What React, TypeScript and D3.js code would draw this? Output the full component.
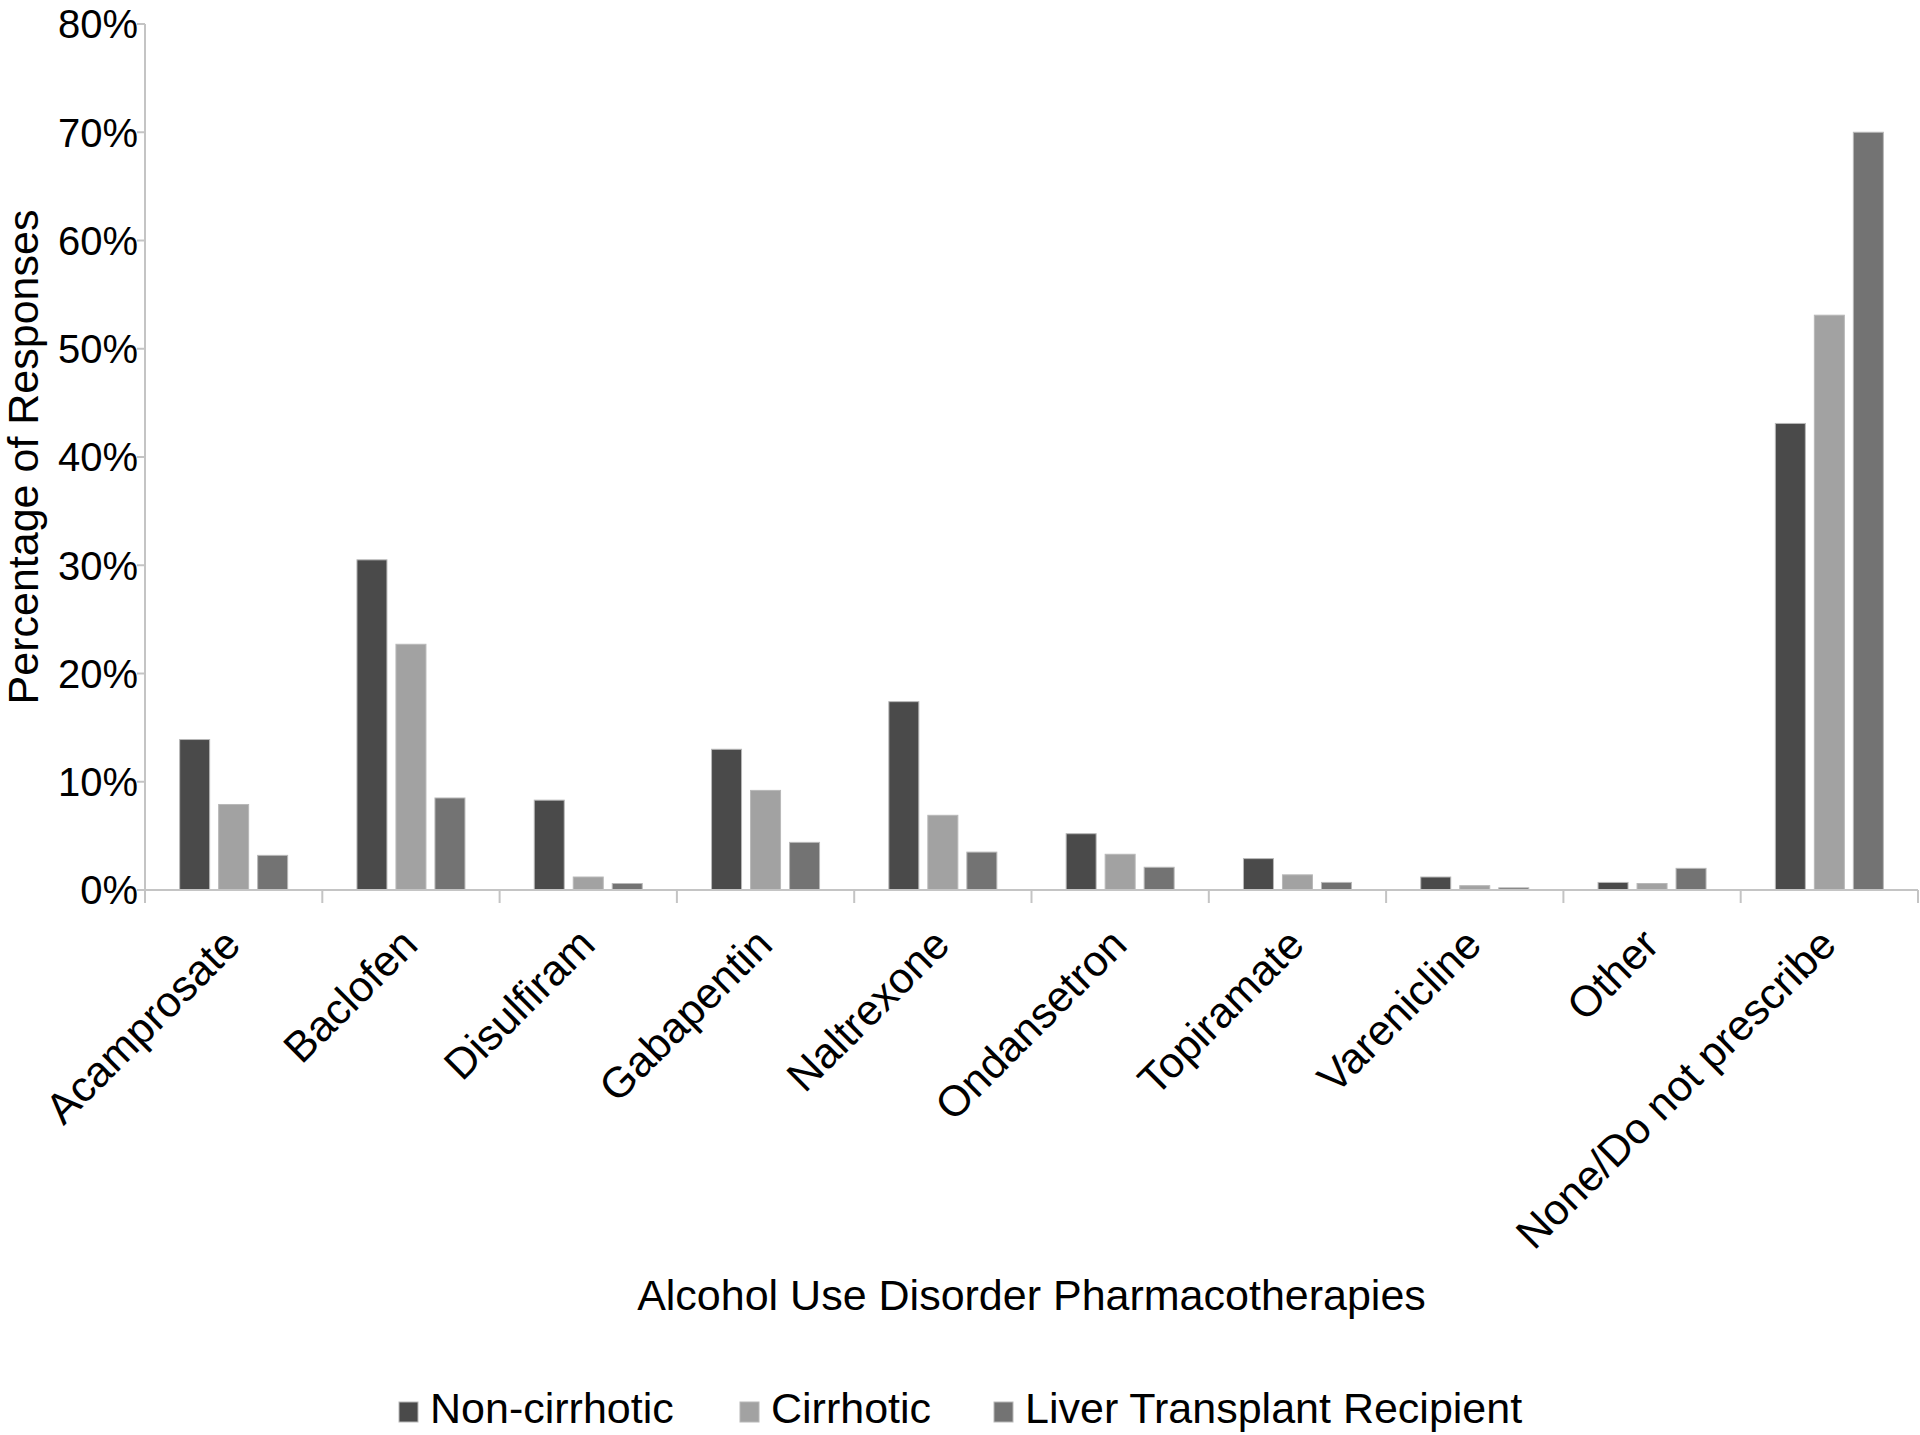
import React from "react";
import * as d3 from "d3";

const categories = [
  "Acamprosate",
  "Baclofen",
  "Disulfiram",
  "Gabapentin",
  "Naltrexone",
  "Ondansetron",
  "Topiramate",
  "Varenicline",
  "Other",
  "None/Do not prescribe",
];
const seriesNames = ["Non-cirrhotic", "Cirrhotic", "Liver Transplant Recipient"];
const nonCirrhotic = [13.9, 30.5, 8.3, 13.0, 17.4, 5.2, 2.9, 1.2, 0.7, 43.1];
const cirrhotic = [7.9, 22.7, 1.2, 9.2, 6.9, 3.3, 1.4, 0.4, 0.6, 53.1];
const transplant = [3.2, 8.5, 0.6, 4.4, 3.5, 2.1, 0.7, 0.2, 2.0, 70.0];
const yTicks = [0, 10, 20, 30, 40, 50, 60, 70, 80];
const colors = ["#4a4a4a", "#a2a2a2", "#737373"];

const W = 1920;
const H = 1435;
const left = 145;
const right = 1918;
const top = 24;
const bottom = 890;
const font = "'Liberation Sans', Arial, Helvetica, sans-serif";
const axisColor = "#c4c4c4";

export default function App() {
  const seriesValues = [nonCirrhotic, cirrhotic, transplant];
  const x0 = d3.scaleBand<string>().domain(categories).range([left, right]).padding(0);
  const x1 = d3
    .scaleBand<string>()
    .domain(seriesNames)
    .range([-54, 54])
    .paddingInner(0.2308)
    .paddingOuter(0);
  const y = d3.scaleLinear().domain([0, 80]).range([bottom, top]);
  const boundaries = categories.map((c) => x0(c) as number).concat([right]);
  const legendX = [399, 740, 994];

  return (
    <svg
      width={W}
      height={H}
      style={{ position: "absolute", left: 0, top: 0, background: "#fff" }}
      fontFamily={font}
    >
      <rect x={0} y={0} width={W} height={H} fill="#fff" />
      {/* bars */}
      {categories.map((c, i) => {
        const cx = (x0(c) as number) + x0.bandwidth() / 2;
        return (
          <g key={c}>
            {seriesNames.map((s, j) => {
              const v = seriesValues[j][i];
              const bx = cx + (x1(s) as number);
              return (
                <rect
                  key={s}
                  x={bx}
                  y={y(v)}
                  width={x1.bandwidth()}
                  height={bottom - y(v)}
                  fill={colors[j]}
                  stroke="#b8b8b8"
                  strokeWidth={1}
                />
              );
            })}
          </g>
        );
      })}
      {/* y axis */}
      <line x1={left} x2={left} y1={top} y2={bottom + 13} stroke={axisColor} strokeWidth={2} />
      {yTicks.map((t) => (
        <g key={t}>
          <line x1={left - 8} x2={left} y1={y(t)} y2={y(t)} stroke={axisColor} strokeWidth={2} />
          <text
            x={left - 7}
            y={y(t)}
            dy="0.36em"
            textAnchor="end"
            fontSize={40}
            fill="#000"
          >
            {t + "%"}
          </text>
        </g>
      ))}
      {/* x axis */}
      <line x1={left} x2={right} y1={bottom} y2={bottom} stroke={axisColor} strokeWidth={2} />
      {boundaries.map((bx, i) => (
        <line key={i} x1={bx} x2={bx} y1={bottom} y2={bottom + 13} stroke={axisColor} strokeWidth={2} />
      ))}
      {categories.map((c) => {
        const cx = (x0(c) as number) + x0.bandwidth() / 2;
        const ax = cx + 9;
        const ay = 947;
        return (
          <text
            key={c}
            x={ax}
            y={ay}
            textAnchor="end"
            fontSize={43}
            fill="#000"
            transform={`rotate(-45, ${ax}, ${ay})`}
          >
            {c}
          </text>
        );
      })}
      {/* axis titles */}
      <text x={(left + right) / 2} y={1310} textAnchor="middle" fontSize={43} fill="#000">
        Alcohol Use Disorder Pharmacotherapies
      </text>
      <text
        x={38}
        y={457}
        textAnchor="middle"
        fontSize={43}
        fill="#000"
        transform={`rotate(-90, 38, 457)`}
      >
        Percentage of Responses
      </text>
      {/* legend */}
      {seriesNames.map((s, j) => (
        <g key={s}>
          <rect x={legendX[j]} y={1402} width={19} height={20} fill={colors[j]} stroke="#b8b8b8" strokeWidth={1} />
          <text x={legendX[j] + 31} y={1423} fontSize={43} fill="#000">
            {s}
          </text>
        </g>
      ))}
    </svg>
  );
}
